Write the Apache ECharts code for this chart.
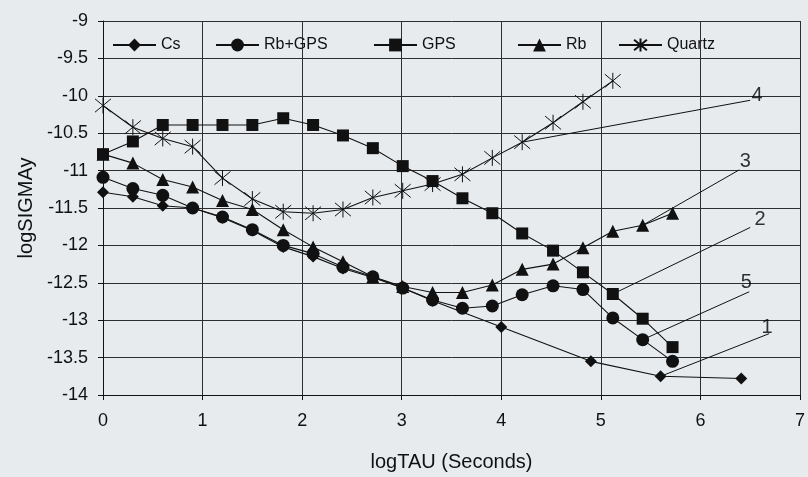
<!DOCTYPE html>
<html><head><meta charset="utf-8">
<script src="https://cdn.jsdelivr.net/npm/echarts@6/dist/echarts.min.js"></script>
<style>html,body{margin:0;padding:0;background:#e7ebee;}#c{width:808px;height:477px;}</style>
</head><body><div id="c"></div>
<script>
// ---- data ----
const tauLog = [0,0.3,0.6,0.9,1.2,1.5,1.81,2.11,2.41,2.71,3.01,3.31,3.61,3.91,4.21,4.52,4.82,5.12,5.42,5.72];
const csTau  = [0,0.3,0.6,0.9,1.2,1.5,1.81,2.11,2.41,2.71,3.01,3.31,4.0,4.9,5.6,6.41];
const cs     = [-11.29,-11.35,-11.47,-11.5,-11.63,-11.8,-12.02,-12.15,-12.31,-12.43,-12.57,-12.74,-13.09,-13.55,-13.75,-13.78];
const rbGps  = [-11.09,-11.24,-11.33,-11.5,-11.62,-11.79,-12.0,-12.11,-12.29,-12.42,-12.57,-12.73,-12.84,-12.81,-12.66,-12.54,-12.59,-12.97,-13.26,-13.55];
const gps    = [-10.78,-10.61,-10.39,-10.39,-10.39,-10.39,-10.3,-10.39,-10.53,-10.7,-10.94,-11.14,-11.37,-11.57,-11.84,-12.07,-12.36,-12.65,-12.98,-13.36];
const rb     = [-10.78,-10.9,-11.12,-11.22,-11.4,-11.52,-11.79,-12.02,-12.22,-12.42,-12.55,-12.63,-12.63,-12.53,-12.32,-12.25,-12.03,-11.81,-11.73,-11.57];
const quartz = [-10.13,-10.42,-10.57,-10.68,-11.1,-11.38,-11.55,-11.57,-11.52,-11.36,-11.27,-11.18,-11.05,-10.83,-10.62,-10.36,-10.08,-9.8];
const seriesNames = ['Cs','Rb+GPS','GPS','Rb','Quartz'];
// annotation leader lines: label, start point (on a curve), end point, label position
const annLabels = ['1','2','3','4','5'];
const annFromX  = [5.6, 5.12, 5.42, 4.21, 5.42];
const annFromY  = [-13.75, -12.65, -11.73, -10.62, -13.26];
const annToX    = [6.69, 6.5, 6.39, 6.5, 6.49];
const annToY    = [-13.18, -11.76, -10.99, -10.06, -12.62];
const annTextX  = [6.67, 6.6, 6.45, 6.57, 6.46];
const annTextY  = [-13.1, -11.65, -10.88, -9.99, -12.5];
// axis ticks
const xMin = 0, xMax = 7, xStep = 1;
const yMin = -14, yMax = -9, yStep = 0.5;

// ---- build ----
const FONT = "'Liberation Sans', Arial, sans-serif";
const INK = '#111111';
function pairs(xs, ys){ return ys.map((v,i)=>[xs[i], v]); }
const base = {type:'line', lineStyle:{color:INK, width:1.1}, itemStyle:{color:INK}, z:3};
const asterisk = 'path://M0,0L10,10M10,0L0,10M5,-1L5,11';

const series = [
  Object.assign({}, base, {name:seriesNames[0], data:pairs(csTau, cs), symbol:'diamond', symbolSize:12}),
  Object.assign({}, base, {name:seriesNames[1], data:pairs(tauLog, rbGps), symbol:'circle', symbolSize:13}),
  Object.assign({}, base, {name:seriesNames[2], data:pairs(tauLog, gps), symbol:'rect', symbolSize:12}),
  Object.assign({}, base, {name:seriesNames[3], data:pairs(tauLog, rb), symbol:'triangle', symbolSize:13}),
  Object.assign({}, base, {name:seriesNames[4], data:pairs(tauLog, quartz), symbol:asterisk, symbolSize:16,
      itemStyle:{color:'rgba(0,0,0,0)', borderColor:INK, borderWidth:1}})
];
annLabels.forEach((lab,i)=>{
  series.push({type:'line', name:'ann'+lab, silent:true, symbol:'none', z:2,
    lineStyle:{color:INK, width:1},
    data:[[annFromX[i], annFromY[i]], [annToX[i], annToY[i]]]});
});
series.push({type:'scatter', name:'annText', silent:true, symbolSize:1, z:4,
  itemStyle:{color:'rgba(0,0,0,0)'},
  data: annLabels.map((lab,i)=>[annTextX[i], annTextY[i], lab]),
  label:{show:true, position:'inside', formatter:p=>p.value[2], color:'#000', fontSize:20, fontFamily:FONT}});

const legendLeft = [112, 215, 373, 517, 618];
const legends = seriesNames.map((n,i)=>({
  data:[n], left:legendLeft[i], top:37, itemWidth:43, itemHeight:16, itemGap:0,
  textStyle:{color:INK, fontSize:16, fontFamily:FONT}, padding:0, selectedMode:false
}));

const axisCommon = {
  axisLine:{show:true, lineStyle:{color:INK, width:1}},
  axisTick:{show:true, inside:false, length:5, lineStyle:{color:INK}},
  splitLine:{show:true, lineStyle:{color:'#2e2e2e', width:1}},
  axisLabel:{color:INK, fontSize:18, fontFamily:FONT},
  nameTextStyle:{color:INK, fontSize:20, fontFamily:FONT},
  nameLocation:'middle'
};

const chart = echarts.init(document.getElementById('c'), null, {renderer:'canvas'});
chart.setOption({
  backgroundColor:'#e7ebee',
  animation:false,
  grid:{left:103, right:1.5, top:21, bottom:78, containLabel:false},
  legend: legends,
  xAxis: Object.assign({}, axisCommon, {type:'value', min:xMin, max:xMax, interval:xStep,
    axisLabel:{color:INK, fontSize:18, fontFamily:FONT, margin:17},
    name:'logTAU (Seconds)', nameGap:57}),
  yAxis: Object.assign({}, axisCommon, {type:'value', min:yMin, max:yMax, interval:yStep,
    axisLabel:{color:INK, fontSize:18, fontFamily:FONT, margin:15},
    name:'logSIGMAy', nameGap:66}),
  series: series
});
</script></body></html>
